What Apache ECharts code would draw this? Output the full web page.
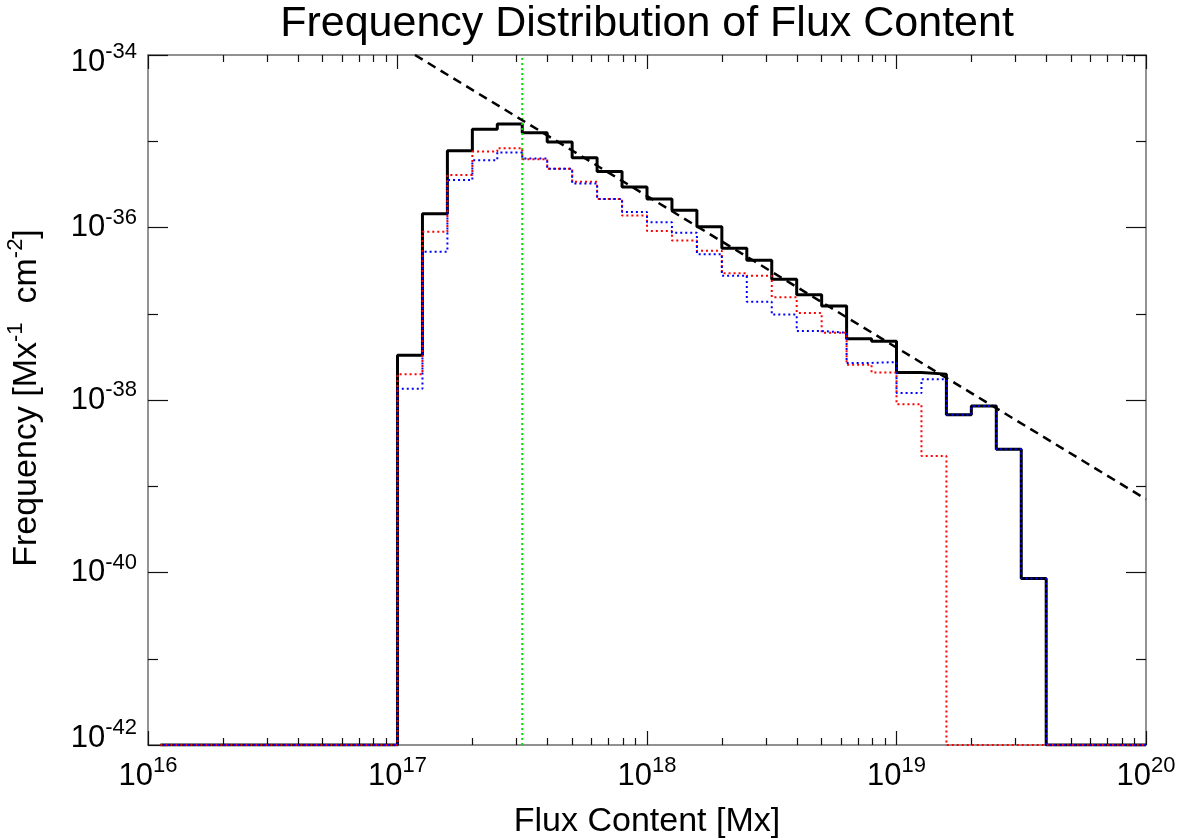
<!DOCTYPE html>
<html>
<head>
<meta charset="utf-8">
<script src="https://cdn.jsdelivr.net/npm/echarts@6/dist/echarts.min.js"></script>
<style>
html,body{margin:0;padding:0;background:#fff;}
#chart{width:1189px;height:838px;}
</style>
</head>
<body>
<div id="chart"></div>
<script>
// ---------- data (log10 values) ----------
const plotStartExp = 16.05;                 // histogram drawing starts here (empty bins)
const binLowExp = [17.0,17.1,17.2,17.3,17.4,17.5,17.6,17.7,17.8,17.9,
                   18.0,18.1,18.2,18.3,18.4,18.5,18.6,18.7,18.8,18.9,
                   19.0,19.1,19.2,19.3,19.4,19.5,19.6,19.7,19.8,19.9];
const binTopExp = 20.0;
// null = empty bin (drawn on the axis floor)
const totalLogFreq = [-37.48,-35.84,-35.11,-34.86,-34.80,-34.90,-35.01,-35.19,-35.35,-35.53,
                      -35.67,-35.80,-35.99,-36.24,-36.38,-36.60,-36.78,-36.91,-37.29,-37.32,
                      -37.68,-37.70,-38.17,-38.07,-38.57,-40.07,null,null,null,null];
const redLogFreq   = [-37.70,-36.05,-35.39,-35.12,-35.08,-35.21,-35.32,-35.47,-35.67,-35.86,
                      -36.04,-36.15,-36.27,-36.53,-36.56,-36.81,-36.99,-37.22,-37.59,-37.68,
                      -38.05,-38.65,null,null,null,null,null,null,null,null];
const blueLogFreq  = [-37.87,-36.28,-35.45,-35.22,-35.13,-35.20,-35.32,-35.49,-35.67,-35.82,
                      -35.94,-36.06,-36.31,-36.56,-36.86,-37.01,-37.20,-37.22,-37.57,-37.56,
                      -37.92,-37.76,-38.17,-38.07,-38.57,-40.07,null,null,null,null];
const thresholdExp = 17.5;                  // green dotted line
const fitLogX = [17.07, 20.0];              // dashed power-law fit (ends)
const fitLogY = [-34.0, -39.15];

const xMajorExp = [16,17,18,19,20];
const yMajorExp = [-42,-40,-38,-36,-34];
const yMinorExp = [-41,-39,-37,-35];
const xMinorMult = [2,3,4,5,6,7,8,9];

const X_MIN = 16, X_MAX = 20, Y_MIN = -42, Y_MAX = -34;
const FLOOR = Math.pow(10, Y_MIN);

// ---------- build ----------
function histPoints(logFreq){
  const pts = [[Math.pow(10, plotStartExp), FLOOR]];
  for (let i = 0; i < binLowExp.length; i++) {
    const v = logFreq[i];
    pts.push([Math.pow(10, binLowExp[i]), v == null ? FLOOR : Math.pow(10, v)]);
  }
  const last = logFreq[logFreq.length - 1];
  pts.push([Math.pow(10, binTopExp), last == null ? FLOOR : Math.pow(10, last)]);
  return pts;
}
const xMinorExp = [];
for (let d = X_MIN; d < X_MAX; d++) xMinorMult.forEach(k => xMinorExp.push(d + Math.log10(k)));

const FONT = 'Liberation Sans';
const richTick = {
  b: {fontSize: 31, lineHeight: 42, verticalAlign: 'middle', color: '#000', fontFamily: FONT},
  s: {fontSize: 22, lineHeight: 20, verticalAlign: 'top', color: '#000', fontFamily: FONT},
  g: {fontSize: 1, lineHeight: 14}
};
function expLabel(v){ return '{b|10}{s|' + Math.round(v) + '}'; }

const axisLineStyle = {color: '#6e6e6e', width: 1.5};
const tickStyle = {color: '#111', width: 1.2};

function tickAxis(pos, min, max, vals, len, line, labels){
  return {
    type: 'value', position: pos, min: min, max: max,
    axisLine: {show: line, onZero: false, lineStyle: axisLineStyle},
    axisTick: {show: true, inside: true, length: len, customValues: vals, lineStyle: tickStyle},
    axisLabel: labels ? labels : {show: false},
    splitLine: {show: false}, minorTick: {show: false}
  };
}

const xLabels = {
  show: true, customValues: xMajorExp, margin: 10,
  formatter: v => expLabel(v), rich: richTick
};
const yLabels = {
  show: true, customValues: yMajorExp, margin: 11, align: 'right',
  formatter: v => {
    const r = Math.round(v);
    if (r === Y_MAX) return '{g| }\n' + expLabel(r);
    if (r === Y_MIN) return expLabel(r) + '\n{g| }';
    return expLabel(r);
  },
  rich: richTick
};

const chart = echarts.init(document.getElementById('chart'), null, {renderer: 'canvas'});
chart.setOption({
  animation: false,
  backgroundColor: '#fff',
  textStyle: {fontFamily: FONT},
  grid: {left: 148, right: 43, top: 55, bottom: 93, containLabel: false, outerBoundsMode: 'none'},
  xAxis: [
    {type: 'log', logBase: 10, min: Math.pow(10, X_MIN), max: Math.pow(10, X_MAX), show: false},
    tickAxis('bottom', X_MIN, X_MAX, xMajorExp, 14, true, xLabels),
    tickAxis('bottom', X_MIN, X_MAX, xMinorExp, 7, false, null),
    tickAxis('top', X_MIN, X_MAX, xMajorExp, 14, true, null),
    tickAxis('top', X_MIN, X_MAX, xMinorExp, 7, false, null)
  ],
  yAxis: [
    {type: 'log', logBase: 10, min: Math.pow(10, Y_MIN), max: Math.pow(10, Y_MAX), show: false},
    tickAxis('left', Y_MIN, Y_MAX, yMajorExp, 20, true, yLabels),
    tickAxis('left', Y_MIN, Y_MAX, yMinorExp, 10, false, null),
    tickAxis('right', Y_MIN, Y_MAX, yMajorExp, 20, true, null),
    tickAxis('right', Y_MIN, Y_MAX, yMinorExp, 10, false, null)
  ],
  series: [
    {
      name: 'total', type: 'line', step: 'end', xAxisIndex: 0, yAxisIndex: 0,
      data: histPoints(totalLogFreq), symbol: 'none', showSymbol: false,
      lineStyle: {color: '#000', width: 3}, z: 3
    },
    {
      name: 'threshold', type: 'line', xAxisIndex: 0, yAxisIndex: 0,
      data: [[Math.pow(10, thresholdExp), Math.pow(10, Y_MIN)], [Math.pow(10, thresholdExp), Math.pow(10, Y_MAX)]],
      symbol: 'none', lineStyle: {color: '#00e000', width: 2, type: [2, 3]}, z: 4
    },
    {
      name: 'red', type: 'line', step: 'end', xAxisIndex: 0, yAxisIndex: 0,
      data: histPoints(redLogFreq), symbol: 'none', showSymbol: false,
      lineStyle: {color: '#ff0000', width: 2, type: [2, 3]}, z: 5
    },
    {
      name: 'blue', type: 'line', step: 'end', xAxisIndex: 0, yAxisIndex: 0,
      data: histPoints(blueLogFreq), symbol: 'none', showSymbol: false,
      lineStyle: {color: '#0000ff', width: 2, type: [2, 3], dashOffset: 2.5}, z: 6
    },
    {
      name: 'fit', type: 'line', xAxisIndex: 0, yAxisIndex: 0,
      data: fitLogX.map((x, i) => [Math.pow(10, x), Math.pow(10, fitLogY[i])]),
      symbol: 'none', lineStyle: {color: '#000', width: 2.5, type: [9, 6]}, z: 7
    }
  ],
  graphic: [
    {type: 'text', x: 647, y: 24, z: 10,
     style: {text: 'Frequency Distribution of Flux Content', fontSize: 43, fontFamily: FONT,
             fill: '#000', align: 'center', verticalAlign: 'middle'}},
    {type: 'text', x: 647, y: 822, z: 10,
     style: {text: 'Flux Content [Mx]', fontSize: 34, fontFamily: FONT,
             fill: '#000', align: 'center', verticalAlign: 'middle'}},
    {type: 'text', x: 27, y: 398, rotation: Math.PI / 2, z: 10,
     style: {text: '{n|Frequency [Mx}{s|-1}{n|  cm}{s|-2}{n|]}', align: 'center', verticalAlign: 'middle',
             rich: {
               n: {fontSize: 34, lineHeight: 44, verticalAlign: 'middle', fill: '#000', fontFamily: FONT},
               s: {fontSize: 22, lineHeight: 22, verticalAlign: 'top', fill: '#000', fontFamily: FONT}
             }}}
  ]
});
</script>
</body>
</html>
